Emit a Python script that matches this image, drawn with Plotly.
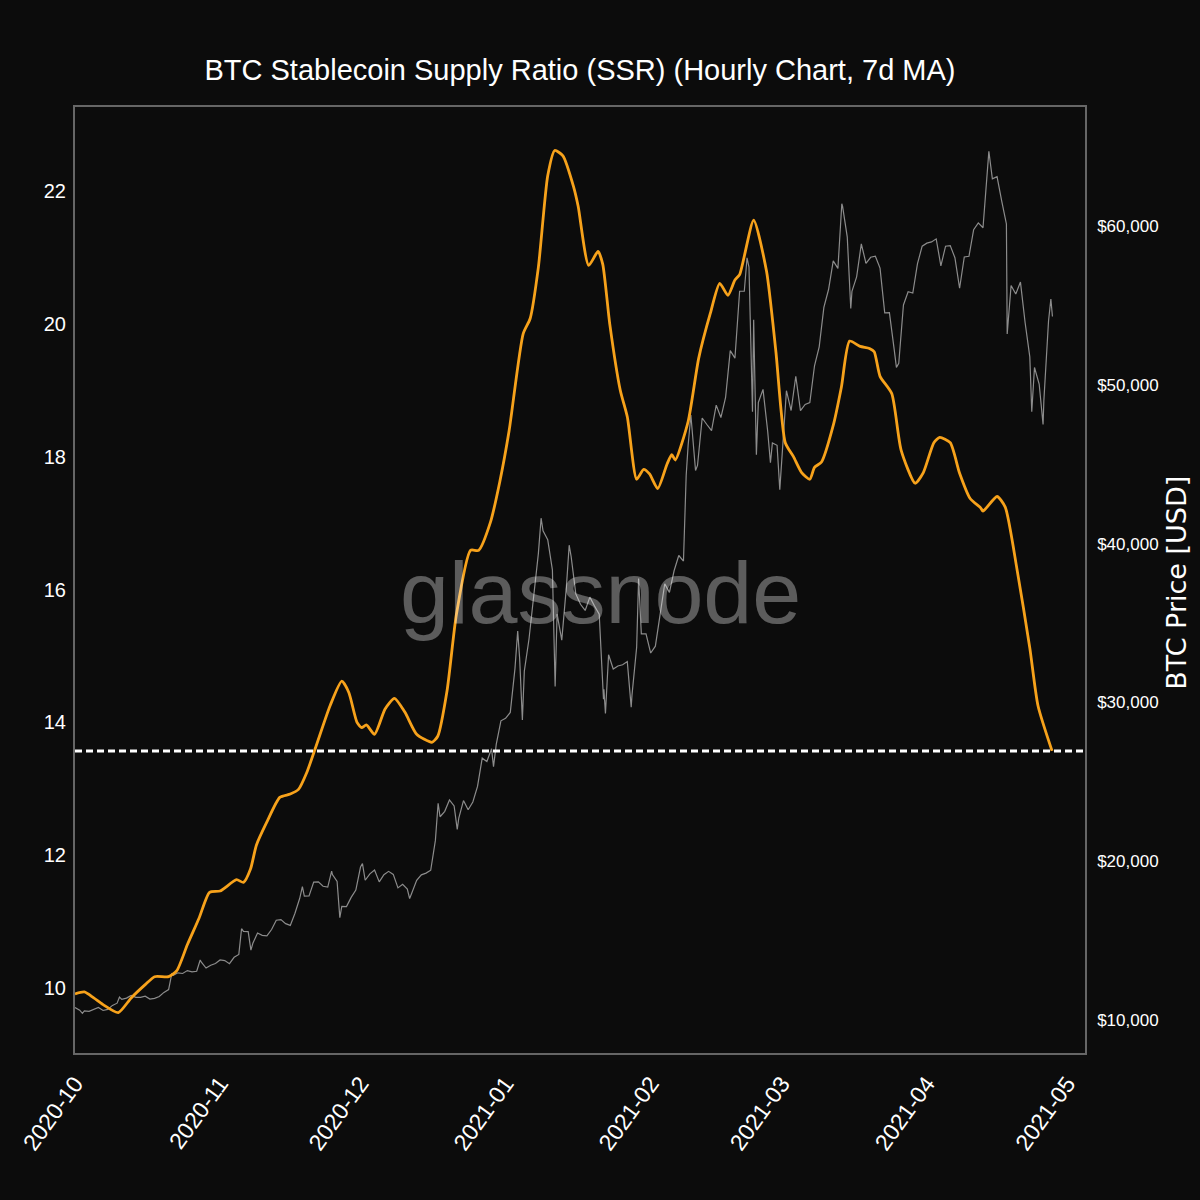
import pandas as pd
import plotly.graph_objects as go

# ---------------- data ----------------
# Stablecoin Supply Ratio (7d MA)
ssr_times = [
    "2020-10-01 00:00", "2020-10-03 00:00", "2020-10-05 00:00", "2020-10-07 00:00", "2020-10-10 06:00",
    "2020-10-13 00:00", "2020-10-16 00:00", "2020-10-18 00:00", "2020-10-21 00:00", "2020-10-22 18:00",
    "2020-10-25 00:00", "2020-10-27 12:00", "2020-10-29 18:00", "2020-11-01 00:00", "2020-11-04 12:00",
    "2020-11-06 00:00", "2020-11-07 12:00", "2020-11-08 18:00", "2020-11-11 00:00", "2020-11-13 18:00",
    "2020-11-16 00:00", "2020-11-17 18:00", "2020-11-19 12:00", "2020-11-21 12:00", "2020-11-24 12:00",
    "2020-11-27 00:00", "2020-11-28 12:00", "2020-11-30 06:00", "2020-12-01 06:00", "2020-12-02 06:00",
    "2020-12-04 00:00", "2020-12-06 06:00", "2020-12-08 06:00", "2020-12-10 12:00", "2020-12-13 00:00",
    "2020-12-16 06:00", "2020-12-17 12:00", "2020-12-19 12:00", "2020-12-21 12:00", "2020-12-24 12:00",
    "2020-12-26 06:00", "2020-12-28 18:00", "2020-12-30 18:00", "2021-01-01 18:00", "2021-01-04 18:00",
    "2021-01-06 06:00", "2021-01-08 00:00", "2021-01-10 00:00", "2021-01-11 12:00", "2021-01-13 06:00",
    "2021-01-15 12:00", "2021-01-16 12:00", "2021-01-18 18:00", "2021-01-20 18:00", "2021-01-21 18:00",
    "2021-01-23 06:00", "2021-01-25 12:00", "2021-01-27 00:00", "2021-01-29 00:00", "2021-01-30 12:00",
    "2021-01-31 18:00", "2021-02-02 12:00", "2021-02-04 12:00", "2021-02-05 12:00", "2021-02-06 06:00",
    "2021-02-09 00:00", "2021-02-11 06:00", "2021-02-13 18:00", "2021-02-15 18:00", "2021-02-17 12:00",
    "2021-02-19 00:00", "2021-02-20 00:00", "2021-02-23 00:00", "2021-02-25 18:00", "2021-02-27 18:00",
    "2021-03-01 18:00", "2021-03-03 12:00", "2021-03-05 06:00", "2021-03-07 00:00", "2021-03-08 00:00",
    "2021-03-09 12:00", "2021-03-12 00:00", "2021-03-13 18:00", "2021-03-15 12:00", "2021-03-17 18:00",
    "2021-03-19 18:00", "2021-03-20 18:00", "2021-03-22 00:00", "2021-03-24 12:00", "2021-03-26 12:00",
    "2021-03-29 12:00", "2021-03-31 06:00", "2021-04-02 12:00", "2021-04-03 18:00", "2021-04-06 00:00",
    "2021-04-08 00:00", "2021-04-10 06:00", "2021-04-12 12:00", "2021-04-13 00:00", "2021-04-16 00:00",
    "2021-04-17 18:00", "2021-04-20 06:00", "2021-04-23 00:00", "2021-04-24 18:00", "2021-04-27 18:00",
]
ssr_values = [
    9.91, 9.94, 9.85, 9.75, 9.63,
    9.85, 10.05, 10.17, 10.17, 10.26,
    10.65, 11.05, 11.44, 11.46, 11.63,
    11.59, 11.79, 12.15, 12.50, 12.87,
    12.92, 12.99, 13.24, 13.64, 14.25,
    14.62, 14.45, 14.00, 13.92, 13.96,
    13.82, 14.20, 14.36, 14.15, 13.82,
    13.70, 13.79, 14.48, 15.63, 16.59,
    16.59, 17.01, 17.62, 18.39, 19.85,
    20.08, 20.85, 22.23, 22.61, 22.53,
    22.07, 21.77, 20.88, 21.09, 20.90,
    20.00, 19.00, 18.60, 17.66, 17.81,
    17.74, 17.52, 17.89, 18.03, 17.95,
    18.53, 19.48, 20.16, 20.61, 20.43,
    20.66, 20.74, 21.56, 20.79, 19.58,
    18.21, 18.00, 17.76, 17.66, 17.84,
    17.92, 18.47, 19.05, 19.74, 19.66,
    19.63, 19.58, 19.21, 18.95, 18.10,
    17.60, 17.76, 18.21, 18.29, 18.21,
    17.75, 17.37, 17.23, 17.18, 17.40,
    17.24, 16.31, 15.12, 14.25, 13.57,
]

# BTC price: daily points (00:00 UTC) from 2020-10-01
price_start = "2020-10-01"
price_daily = [
    10780, 10620, 10570, 10550, 10670, 10790, 10600, 10670, 10920, 11060,
    11300, 11380, 11550, 11430, 11430, 11500, 11320, 11360, 11480, 11740,
    11920, 12820, 12970, 12930, 13110, 13030, 13070, 13640, 13270, 13450,
    13560, 13780, 13740, 13550, 13950, 14130, 15580, 15570, 14830, 15480,
    15330, 15300, 15700, 16280, 16320, 16070, 15960, 16720, 17650, 17800,
    17820, 18680, 18700, 18420, 18370, 19160, 18720, 17150, 17140, 17720,
    18180, 19630, 18800, 19200, 19450, 18700, 19150, 19360, 19170, 18320,
    18550, 18250, 18030, 18800, 19140, 19250, 19430, 21310, 22800, 23140,
    23860, 23480, 22720, 23820, 23240, 23730, 24710, 26490, 26280, 27080,
    27360, 28840, 29000, 29370, 32130, 32780, 31970, 33990, 36820, 39370,
    40800, 40250, 38350, 35570, 33920, 37320, 39190, 36830, 36180, 35790,
    36630, 36070, 35550, 30830, 33000, 32100, 32290, 32370, 32570, 30440,
    33470, 34320, 34320, 33110, 33540, 35510, 37470, 36930, 38290, 39250,
    38900, 46200, 46480, 44920, 47910, 47500, 47110, 48720, 47940, 49200,
    52150, 51680, 55890, 55890, 57410, 54090, 48890, 49710, 47060, 46340,
    46190, 45140, 49630, 48380, 50540, 48370, 48760, 48880, 51200, 52390,
    54880, 56000, 57800, 57330, 61240, 59300, 55880, 56800, 58870, 57650,
    58030, 58100, 57350, 54530, 54540, 52280, 51350, 55030, 55860, 55780,
    57630, 58730, 58920, 59000, 59190, 57490, 58730, 58770, 58000, 56080,
    58050, 58090, 59770, 60200, 59890, 63500, 62970, 63110, 61570, 60130,
    56250, 55720, 56470, 53910, 51760, 51090, 50050, 49000, 54020,
]
# intraday extremes visible in the hourly price line
price_intraday_times = [
    "2020-10-02 14:00", "2020-10-10 12:00", "2020-10-21 16:00", "2020-10-27 18:00", "2020-11-05 14:00",
    "2020-11-07 14:00", "2020-11-18 14:00", "2020-11-24 20:00", "2020-11-26 14:00", "2020-12-01 10:00",
    "2020-12-11 12:00", "2020-12-17 14:00", "2020-12-21 16:00", "2020-12-29 10:00", "2021-01-03 14:00",
    "2021-01-04 14:00", "2021-01-08 14:00", "2021-01-11 14:00", "2021-01-14 14:00", "2021-01-21 22:00",
    "2021-01-22 08:00", "2021-01-27 20:00", "2021-01-29 10:00", "2021-02-08 14:00", "2021-02-09 14:00",
    "2021-02-10 14:00", "2021-02-21 14:00", "2021-02-22 18:00", "2021-02-23 14:00", "2021-02-26 14:00",
    "2021-02-28 14:00", "2021-03-13 20:00", "2021-03-15 18:00", "2021-03-25 12:00", "2021-04-14 06:00",
    "2021-04-18 04:00", "2021-04-23 10:00", "2021-04-25 20:00", "2021-04-27 12:00", "2021-04-27 20:00",
]
price_intraday_values = [
    10420, 11450, 12900, 13780, 15750,
    14400, 18400, 19380, 16450, 19850,
    17650, 23650, 22000, 25950, 34500,
    28900, 41600, 31000, 39900, 30200,
    29300, 29700, 37800, 44300, 48100,
    44600, 58000, 48300, 45600, 45100,
    43400, 61400, 54800, 51100, 64700,
    53200, 48300, 47500, 55400, 54300,
]

x_tick_dates = ["2020-10-01", "2020-11-01", "2020-12-01", "2021-01-01",
                "2021-02-01", "2021-03-01", "2021-04-01", "2021-05-01"]
ssr_ticks = [10, 12, 14, 16, 18, 20, 22]
price_ticks = [10000, 20000, 30000, 40000, 50000, 60000]

# ---------------- build ----------------
daily = pd.Series(price_daily,
                  index=pd.date_range(price_start, periods=len(price_daily), freq="D"))
intraday = pd.Series(price_intraday_values, index=pd.to_datetime(price_intraday_times))
price = pd.concat([daily, intraday]).sort_index()

NARROW = "Liberation Sans, Arial, sans-serif"
BG = "#0c0c0c"

fig = go.Figure()
fig.add_trace(go.Scatter(
    x=price.index, y=price.values, yaxis="y", mode="lines",
    line=dict(color="#8c8c8c", width=1.2), name="BTC Price", showlegend=False,
))
fig.add_trace(go.Scatter(
    x=pd.to_datetime(ssr_times), y=ssr_values, yaxis="y2", mode="lines",
    line=dict(color="#f7a21b", width=2.8, shape="spline", smoothing=0.6),
    name="SSR", showlegend=False,
))

fig.add_shape(type="line", xref="paper", x0=0, x1=1, yref="y2",
              y0=ssr_values[-1], y1=ssr_values[-1],
              line=dict(color="white", width=3, dash="7px,4px"), layer="above")

fig.add_annotation(text="glassnode", xref="paper", yref="paper", x=0.52, y=0.487,
                   showarrow=False,
                   font=dict(family=NARROW, size=88, color="rgba(255,255,255,0.33)"))

# right axis title placed as rotated text
fig.add_annotation(text="BTC Price [USD]", xref="paper", yref="paper",
                   x=1.091, y=0.497, xanchor="center", yanchor="middle",
                   textangle=-90, showarrow=False,
                   font=dict(family="DejaVu Sans", size=27, color="white"))

fig.update_layout(
    width=1200, height=1200,
    paper_bgcolor=BG, plot_bgcolor=BG,
    margin=dict(l=75, r=115, t=107, b=147, autoexpand=False),
    title=dict(text="BTC Stablecoin Supply Ratio (SSR) (Hourly Chart, 7d MA)",
               x=0.5, xref="paper", xanchor="center",
               y=1 - 70 / 1200, yref="container", yanchor="middle",
               font=dict(family=NARROW, size=29, color="white")),
    xaxis=dict(
        type="date", range=["2020-10-01", "2021-05-04 19:00"],
        tickvals=x_tick_dates, tickformat="%Y-%m", tickangle=-54,
        tickfont=dict(family=NARROW, size=23, color="white"),
        ticklabelstandoff=6, automargin=False,
        showgrid=False, zeroline=False,
        showline=True, linecolor="#666666", linewidth=2, mirror=True,
    ),
    yaxis=dict(
        side="right", range=[7922, 67494],
        tickvals=price_ticks, tickformat="$,.0f",
        tickfont=dict(family=NARROW, size=17, color="white"),
        ticklabelstandoff=7, automargin=False,
        showgrid=False, zeroline=False,
        showline=True, linecolor="#666666", linewidth=1.5, mirror=True,
    ),
    yaxis2=dict(
        overlaying="y", side="left", range=[9.021, 23.265],
        tickvals=ssr_ticks,
        tickfont=dict(family=NARROW, size=20, color="white"),
        ticklabelstandoff=8, automargin=False,
        showgrid=False, zeroline=False, showline=False,
    ),
)

fig.write_html("out.html")
